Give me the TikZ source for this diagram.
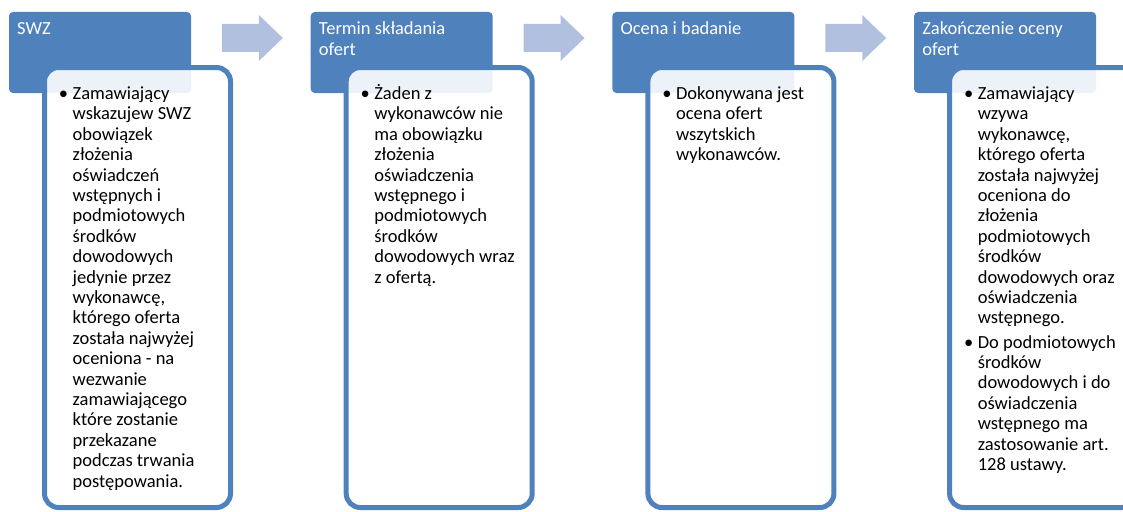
\documentclass[tikz,border=0pt]{standalone}
\usepackage{fontspec}
\setmainfont{Carlito}
\usetikzlibrary{calc}

\definecolor{blau}{HTML}{4F81BD}
\definecolor{hellblau}{HTML}{B0C0DE}
\newcommand{\zeilen}[1]{\begin{tabular}[t]{@{}l@{}}#1\end{tabular}}
\newcommand{\pkt}{\llap{\textbullet\hspace{4.5pt}}}

\tikzset{
  kopf/.style={fill=blau, rounded corners=4pt, minimum width=182pt,
    minimum height=81pt, anchor=north west, inner sep=0pt, outer sep=0pt},
  kopftext/.style={text=white, anchor=base west, inner sep=0pt,
    font=\fontsize{18.5}{20.4}\selectfont},
  rumpf/.style={draw=blau, line width=5pt, fill=white, fill opacity=0.9,
    rounded corners=14pt, minimum width=186pt, minimum height=440pt,
    anchor=north west, inner sep=0pt, outer sep=0pt},
  rumpftext/.style={anchor=base west, inner sep=0pt,
    font=\fontsize{18.5}{20.4}\selectfont},
  pfeil/.style={fill=hellblau}
}

\begin{document}
\begin{tikzpicture}[x=1pt,y=-1pt]
\useasboundingbox (0,0) rectangle (1123,511);
\clip (0,0) rectangle (1123,511);

\node[kopf] (k1) at (9,12) {};
\node[kopf] (k2) at (310.7,12) {};
\node[kopf] (k3) at (612.4,12) {};
\node[kopf] (k4) at (914.1,12) {};

\node[rumpf] (r1) at ($(k1.north west)+(35.5,55.5)$) {};
\node[rumpf] (r2) at ($(k2.north west)+(35.5,55.5)$) {};
\node[rumpf] (r3) at ($(k3.north west)+(35.5,55.5)$) {};
\node[rumpf] (r4) at ($(k4.north west)+(35.5,55.5)$) {};

\coordinate (p1) at ($(k1.north east)!.5!(k2.north west)+(1.5,26)$);
\coordinate (p2) at ($(k2.north east)!.5!(k3.north west)+(1.5,26)$);
\coordinate (p3) at ($(k3.north east)!.5!(k4.north west)+(1.5,26)$);
\fill[pfeil] (p1) ++(-30.5,-14) -- ++(37,0) -- ++(0,-9) -- ++(24,23)
  -- ++(-24,23) -- ++(0,-9) -- ++(-37,0) -- cycle;
\fill[pfeil] (p2) ++(-30.5,-14) -- ++(37,0) -- ++(0,-9) -- ++(24,23)
  -- ++(-24,23) -- ++(0,-9) -- ++(-37,0) -- cycle;
\fill[pfeil] (p3) ++(-30.5,-14) -- ++(37,0) -- ++(0,-9) -- ++(24,23)
  -- ++(-24,23) -- ++(0,-9) -- ++(-37,0) -- cycle;

\node[kopftext] (k1t) at ($(k1.north west)+(8,23)$) {\zeilen{SWZ}};
\node[kopftext] (k2t) at ($(k2.north west)+(8,23)$) {\zeilen{Termin składania\\ofert}};
\node[kopftext] (k3t) at ($(k3.north west)+(8,23)$) {\zeilen{Ocena i badanie}};
\node[kopftext] (k4t) at ($(k4.north west)+(8,23)$) {\zeilen{Zakończenie oceny\\ofert}};

\node[rumpftext] (r1t) at ($(k1.north west)+(63.5,87.5)$) {\pkt\zeilen{Zamawiający\\
  wskazujew SWZ\\obowiązek\\złożenia\\oświadczeń\\wstępnych i\\podmiotowych\\
  środków\\dowodowych\\jedynie przez\\wykonawcę,\\którego oferta\\
  została najwyżej\\oceniona - na\\wezwanie\\zamawiającego\\które zostanie\\
  przekazane\\podczas trwania\\postępowania.}};
\node[rumpftext] (r2t) at ($(k2.north west)+(63.5,87.5)$) {\pkt\zeilen{Żaden z\\
  wykonawców nie\\ma obowiązku\\złożenia\\oświadczenia\\wstępnego i\\
  podmiotowych\\środków\\dowodowych wraz\\z ofertą.}};
\node[rumpftext] (r3t) at ($(k3.north west)+(63.5,87.5)$) {\pkt\zeilen{Dokonywana jest\\
  ocena ofert\\wszytskich\\wykonawców.}};
\node[rumpftext] (r4t) at ($(k4.north west)+(63.5,87.5)$) {\pkt\zeilen{Zamawiający\\
  wzywa\\wykonawcę,\\którego oferta\\została najwyżej\\oceniona do\\złożenia\\
  podmiotowych\\środków\\dowodowych oraz\\oświadczenia\\wstępnego.}};
\node[rumpftext] (r4u) at ($(k4.north west)+(63.5,336)$) {\pkt\zeilen{Do podmiotowych\\
  środków\\dowodowych i do\\oświadczenia\\wstępnego ma\\zastosowanie art.\\
  128 ustawy.}};
\end{tikzpicture}
\end{document}
